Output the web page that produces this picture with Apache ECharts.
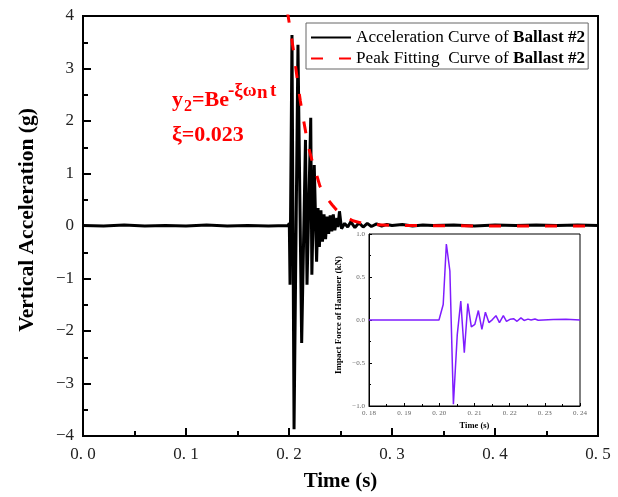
<!DOCTYPE html>
<html>
<head>
<meta charset="utf-8">
<script src="https://cdn.jsdelivr.net/npm/echarts@6/dist/echarts.min.js"></script>
<style>html,body{margin:0;padding:0;background:#fff}#c{width:618px;height:497px}</style>
</head>
<body>
<div id="c"></div>
<script>
// ---- data ----
const accTime = [0.000,0.020,0.040,0.060,0.080,0.100,0.120,0.140,0.160,0.180,0.199,0.2003,0.2010,0.2029,0.2049,0.2087,0.2123,0.2160,0.2175,0.2211,0.2222,0.2245,0.2268,0.2282,0.2295,0.2310,0.2325,0.2340,0.2355,0.2370,0.2385,0.2400,0.2415,0.2430,0.2445,0.2465,0.2475,0.2490,0.2510,0.2540,0.2570,0.2600,0.2640,0.2680,0.2720,0.2760,0.2800,0.2850,0.2900,0.2950,0.3000,0.3100,0.3200,0.3300,0.3400,0.3600,0.3800,0.4000,0.4200,0.4400,0.4600,0.4800,0.5000];
const accValue = [0.01,0.00,0.02,0.00,0.01,0.00,0.02,0.00,0.01,0.00,0.01,0.05,-1.12,3.64,-3.87,3.45,-2.23,1.64,-1.12,2.06,-0.93,1.16,-0.68,0.34,-0.40,0.30,-0.30,0.22,-0.25,0.18,-0.15,0.20,-0.10,0.22,-0.08,0.15,-0.02,0.28,-0.05,0.05,-0.02,0.08,-0.03,0.06,-0.02,0.05,-0.01,0.04,0.00,0.03,0.01,0.03,0.00,0.02,0.01,0.02,0.00,0.02,0.01,0.02,0.01,0.02,0.01];
const fitTime = [0.1985,0.199,0.202,0.205,0.208,0.211,0.214,0.217,0.220,0.223,0.226,0.230,0.234,0.238,0.242,0.246,0.250,0.256,0.262,0.270,0.280,0.300,0.350,0.400,0.500];
const fitValue = [4.10,4.02,3.65,3.25,2.80,2.38,2.03,1.70,1.42,1.20,1.03,0.76,0.62,0.50,0.40,0.31,0.24,0.16,0.10,0.06,0.03,0.01,0.005,0.0,0.0];
const hamTime = [0.180,0.190,0.1999,0.2011,0.2020,0.2030,0.2040,0.2051,0.2061,0.2071,0.2081,0.2091,0.2101,0.2111,0.2121,0.2131,0.2141,0.2151,0.2161,0.2171,0.2182,0.2191,0.2202,0.2211,0.2221,0.2232,0.2241,0.2252,0.2261,0.2272,0.2281,0.2324,0.2360,0.2400];
const hamValue = [0.0,0.0,0.0,0.18,0.884,0.57,-0.98,-0.17,0.22,-0.38,0.19,-0.08,-0.05,0.11,-0.11,0.09,-0.03,0.005,0.05,-0.03,0.05,-0.015,0.01,0.015,-0.015,0.025,-0.005,0.01,0.0,0.012,-0.003,0.005,0.01,0.0];
const mainXTicks = {min:0, max:0.5, interval:0.1};
const mainYTicks = {min:-4, max:4, interval:1};
const insetXTicks = {min:0.18, max:0.24, interval:0.01};
const insetYTicks = {min:-1, max:1, interval:0.5};
const seriesNames = ['Acceleration Curve of Ballast #2','Peak Fitting  Curve of Ballast #2'];

const zip = (a,b)=>a.map((t,i)=>[t,b[i]]);
const serif = '"Liberation Serif","Times New Roman",serif';
const minus = s => String(s).replace('-', '\u2212');

const chart = echarts.init(document.getElementById('c'), null, {renderer:'canvas'});
chart.setOption({
  animation:false,
  backgroundColor:'#fff',
  grid:[
    {left:83, top:16, right:20, bottom:61, show:true, borderColor:'#000', borderWidth:2, backgroundColor:'transparent'},
    {left:369, top:234, right:38, bottom:91, show:true, borderColor:'#000', borderWidth:1, backgroundColor:'#fff'}
  ],
  xAxis:[
    {type:'value', gridIndex:0, min:mainXTicks.min, max:mainXTicks.max, interval:mainXTicks.interval,
     name:'Time (s)', nameLocation:'middle', nameGap:35,
     nameTextStyle:{fontFamily:serif, fontWeight:'bold', fontSize:21, color:'#000'},
     axisLine:{onZero:false, lineStyle:{color:'#000', width:2}},
     axisTick:{inside:true, length:8, lineStyle:{color:'#000', width:2}},
     minorTick:{show:true, splitNumber:2, length:5, lineStyle:{color:'#000', width:2}},
     splitLine:{show:false},
     axisLabel:{fontFamily:serif, fontSize:17, color:'#222', margin:10, formatter:v=>v.toFixed(1).replace('.', '. ')}},
    {type:'value', gridIndex:1, min:insetXTicks.min, max:insetXTicks.max, interval:insetXTicks.interval,
     name:'Time (s)', nameLocation:'middle', nameGap:15,
     nameTextStyle:{fontFamily:serif, fontWeight:'bold', fontSize:8.5, color:'#000'},
     axisLine:{onZero:false, lineStyle:{color:'#000', width:1}},
     axisTick:{inside:true, length:3, lineStyle:{color:'#000', width:1}},
     minorTick:{show:true, splitNumber:2, length:2, lineStyle:{color:'#000', width:1}},
     splitLine:{show:false},
     axisLabel:{fontFamily:serif, fontSize:7, color:'#666', margin:4, formatter:v=>v.toFixed(2).replace('.', '. ')}}
  ],
  yAxis:[
    {type:'value', gridIndex:0, min:mainYTicks.min, max:mainYTicks.max, interval:mainYTicks.interval,
     name:'Vertical Acceleration (g)', nameLocation:'middle', nameGap:45,
     nameTextStyle:{fontFamily:serif, fontWeight:'bold', fontSize:21.5, color:'#000', padding:[0,0,0,12]},
     axisLine:{lineStyle:{color:'#000', width:2}},
     axisTick:{inside:true, length:8, lineStyle:{color:'#000', width:2}},
     minorTick:{show:true, splitNumber:2, length:5, lineStyle:{color:'#000', width:2}},
     splitLine:{show:false},
     axisLabel:{fontFamily:serif, fontSize:17, color:'#222', margin:9, formatter:v=>minus(v)}},
    {type:'value', gridIndex:1, min:insetYTicks.min, max:insetYTicks.max, interval:insetYTicks.interval,
     name:'Impact Force of Hammer (kN)', nameLocation:'middle', nameGap:26,
     nameTextStyle:{fontFamily:serif, fontWeight:'bold', fontSize:9, color:'#000', padding:[0,0,0,10]},
     axisLine:{lineStyle:{color:'#000', width:1}},
     axisTick:{inside:true, length:3, lineStyle:{color:'#000', width:1}},
     minorTick:{show:true, splitNumber:2, length:2, lineStyle:{color:'#000', width:1}},
     splitLine:{show:false},
     axisLabel:{fontFamily:serif, fontSize:7, color:'#666', margin:4, formatter:v=>minus(v.toFixed(1))}}
  ],
  legend:{
    orient:'vertical', left:306, top:23, padding:[6,3,2,4], itemGap:4,
    itemWidth:40, itemHeight:14, borderColor:'#666', borderWidth:1, backgroundColor:'#fff',
    itemStyle:{opacity:0, borderWidth:0},
    data:seriesNames,
    formatter:name=>{const k=name.indexOf('Ballast'); return '{n|'+name.slice(0,k)+'}{b|'+name.slice(k)+'}';},
    textStyle:{fontFamily:serif, fontSize:17.2, color:'#000',
      rich:{n:{fontFamily:serif, fontSize:17.2, color:'#000'}, b:{fontFamily:serif, fontSize:17.2, fontWeight:'bold', color:'#000'}}}
  },
  series:[
    {name:seriesNames[0], type:'line', xAxisIndex:0, yAxisIndex:0, data:zip(accTime,accValue),
     showSymbol:false, symbol:'none', lineStyle:{color:'#000', width:3}, itemStyle:{color:'#000'}, z:3},
    {name:seriesNames[1], type:'line', xAxisIndex:0, yAxisIndex:0, data:zip(fitTime,fitValue),
     showSymbol:false, symbol:'none', lineStyle:{color:'#ff0000', width:3, type:[12,16]}, itemStyle:{color:'#ff0000'}, z:4},
    {name:'hammer', type:'line', xAxisIndex:1, yAxisIndex:1, data:zip(hamTime,hamValue),
     showSymbol:false, symbol:'none', lineStyle:{color:'#7f1cff', width:1.5}, itemStyle:{color:'#7f1cff'}, z:5}
  ],
  graphic:[
    {type:'text', style:{x:172, y:100, text:'y', font:'bold 22px '+serif, fill:'#f00', textVerticalAlign:'middle'}},
    {type:'text', style:{x:184, y:106.5, text:'2', font:'bold 16px '+serif, fill:'#f00', textVerticalAlign:'middle'}},
    {type:'text', style:{x:192, y:100, text:'=Be', font:'bold 22px '+serif, fill:'#f00', textVerticalAlign:'middle'}},
    {type:'text', style:{x:228, y:91.5, text:'-\u03be\u03c9', font:'bold 19px '+serif, fill:'#f00', textVerticalAlign:'middle'}},
    {type:'text', style:{x:257, y:93, text:'n', font:'bold 19px '+serif, fill:'#f00', textVerticalAlign:'middle'}},
    {type:'text', style:{x:270, y:91.5, text:'t', font:'bold 19px '+serif, fill:'#f00', textVerticalAlign:'middle'}},
    {type:'text', style:{x:172, y:135, text:'\u03be=0.023', font:'bold 22px '+serif, fill:'#f00', textVerticalAlign:'middle'}}
  ]
});
</script>
</body>
</html>
